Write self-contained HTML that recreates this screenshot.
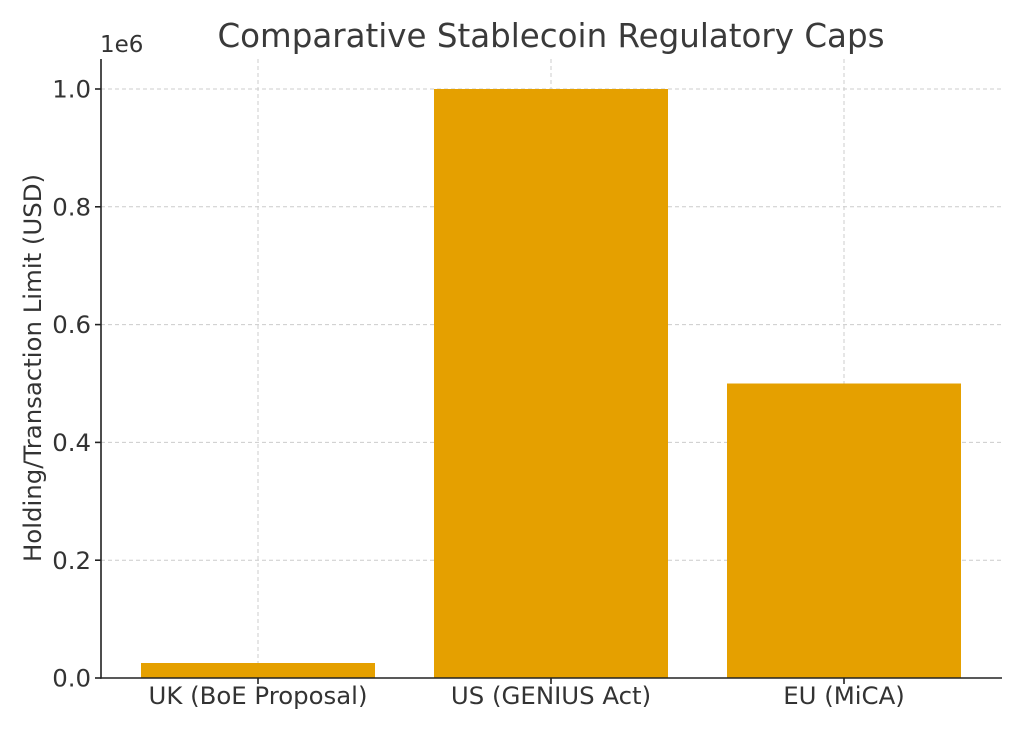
<!DOCTYPE html>
<html><head><style>body{margin:0;background:#fff}</style></head><body>
<svg width="1024" height="731" xmlns="http://www.w3.org/2000/svg" font-family="DejaVu Sans, Liberation Sans, sans-serif" fill="#333">
<rect width="1024" height="731" fill="#fff"/>
<g stroke="#ccc" stroke-width="1" stroke-dasharray="4,3">
<line x1="258" y1="59" x2="258" y2="678"/>
<line x1="551" y1="59" x2="551" y2="678"/>
<line x1="844" y1="59" x2="844" y2="678"/>
<line x1="101" y1="89" x2="1002" y2="89"/>
<line x1="101" y1="206.8" x2="1002" y2="206.8"/>
<line x1="101" y1="324.6" x2="1002" y2="324.6"/>
<line x1="101" y1="442.4" x2="1002" y2="442.4"/>
<line x1="101" y1="560.2" x2="1002" y2="560.2"/>
</g>
<g fill="#E5A000">
<rect x="141" y="663" width="234" height="15"/>
<rect x="434" y="89" width="234" height="589"/>
<rect x="727" y="383.5" width="234" height="294.5"/>
</g>
<g stroke="#222" stroke-width="1.6">
<line x1="101" y1="59" x2="101" y2="678.8"/>
<line x1="100.2" y1="678" x2="1002" y2="678"/>
<line x1="95" y1="89" x2="101" y2="89"/>
<line x1="95" y1="206.8" x2="101" y2="206.8"/>
<line x1="95" y1="324.6" x2="101" y2="324.6"/>
<line x1="95" y1="442.4" x2="101" y2="442.4"/>
<line x1="95" y1="560.2" x2="101" y2="560.2"/>
<line x1="95" y1="678" x2="101" y2="678"/>
<line x1="258" y1="678" x2="258" y2="684"/>
<line x1="551" y1="678" x2="551" y2="684"/>
<line x1="844" y1="678" x2="844" y2="684"/>
</g>
<g font-size="24.4" text-anchor="end">
<text x="91" y="97.5">1.0</text>
<text x="91" y="215.5">0.8</text>
<text x="91" y="333">0.6</text>
<text x="91" y="451">0.4</text>
<text x="91" y="569">0.2</text>
<text x="91" y="686.5">0.0</text>
</g>
<text x="100" y="52" font-size="23">1e6</text>
<g font-size="24.4" text-anchor="middle">
<text x="258" y="704">UK (BoE Proposal)</text>
<text x="551" y="704">US (GENIUS Act)</text>
<text x="844" y="704">EU (MiCA)</text>
</g>
<text x="551" y="47" font-size="32.5" text-anchor="middle" fill="#3a3a3a">Comparative Stablecoin Regulatory Caps</text>
<text transform="translate(41,368) rotate(-90)" font-size="24.4" text-anchor="middle">Holding/Transaction Limit (USD)</text>
</svg>
</body></html>
